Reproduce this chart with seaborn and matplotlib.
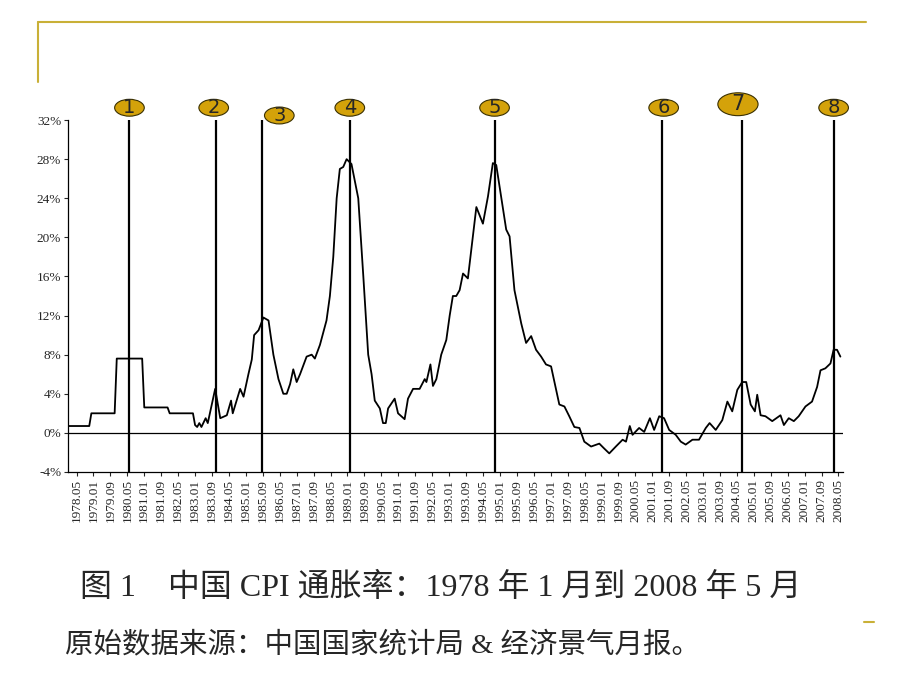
import matplotlib
matplotlib.use("Agg")
import matplotlib.pyplot as plt
import seaborn as sns
import pandas as pd
from matplotlib.lines import Line2D
from matplotlib.patches import Ellipse

# month index counted from 1978.01 (0) and CPI inflation in %
months = [0, 10, 11, 22, 23, 35, 36, 47, 48, 59, 60, 61, 62, 63, 65, 66, 68, 69.5,
          71.9, 75, 77, 77.8, 81.3, 82.9, 85.2, 86.8, 87.9, 90, 92.3, 94.7, 97, 99.4,
          101.7, 103.3, 104.9, 106.4, 108, 109.6, 112.7, 115.1, 116.6, 119, 122.1,
          123.7, 125.3, 126.9, 128.4, 130, 131.6, 133.9, 137.1, 139.5, 141.8, 143.4,
          144.9, 147.3, 148.8, 150.1, 151.2, 154.3, 155.9, 159, 160.6, 163, 166.1,
          168.5, 169.3, 171.2, 172.4, 174, 176.3, 178.7, 180.3, 181.8, 183.4,
          185, 186.6, 188.9, 190.5, 192.9, 196, 198.4, 200.7, 202.3, 204.6, 207,
          208.6, 210.9, 214.1, 216.4, 218.8, 221.1, 223.5, 225.8, 228.2, 230.6,
          232.1, 234.5, 236.8, 239.2, 241.6, 243.9, 247.1, 251, 253.3, 255.7,
          258.8, 262, 263.6, 265.4, 266.7, 269.8, 272.2, 274.9, 276.9, 279.3,
          281.6, 284, 287.1, 289.5, 291.8, 295, 298.1, 301.3, 303.1, 306, 309.1,
          311.5, 313.8, 316.2, 318.5, 320.4, 322.5, 324.5, 325.6, 327.2, 329.5,
          332.7, 336.6, 338.2, 340.5, 342.9, 345.2, 348.4, 351.5, 353.9, 355.5,
          357.8, 360.2, 361.7, 363.3, 364.9]
cpi = [0.7, 0.7, 2.0, 2.0, 7.6, 7.6, 2.6, 2.6, 2.0, 2.0, 0.8, 0.6, 1.0, 0.6, 1.5,
       1.0, 3.0, 4.5, 1.5, 1.8, 3.3, 2.0, 4.5, 3.7, 6.0, 7.5, 10, 10.5, 11.8, 11.5,
       8, 5.5, 4.0, 4.0, 5, 6.5, 5.2, 6.0, 7.8, 8.0, 7.6, 9, 11.5, 14, 18, 24, 27,
       27.2, 28, 27.5, 24, 16, 8, 6, 3.3, 2.5, 1.0, 1.0, 2.5, 3.5, 2, 1.4, 3.5, 4.5,
       4.5, 5.5, 5.2, 7, 4.8, 5.5, 8, 9.5, 12, 14, 14,
       14.6, 16.3, 15.8, 18.7, 23.1, 21.4, 24.2, 27.6, 27.4, 24.2, 20.8, 20.1,
       14.6, 11.2, 9.2, 9.9, 8.5, 7.8, 7.0, 6.8, 4.4, 2.9, 2.7, 1.7, 0.6, 0.5,
       -0.9, -1.4, -1.1, -1.6, -2.1, -1.4, -0.7, -0.9, 0.7, -0.2, 0.5, 0.1, 1.5,
       0.3, 1.7, 1.5, 0.3, -0.2, -0.9, -1.2, -0.7, -0.7, 0.5, 1.0, 0.3, 1.3, 3.2,
       2.2, 4.4, 5.2, 5.2, 2.9, 2.2, 3.9, 1.8, 1.7, 1.2, 1.8, 0.8, 1.5, 1.2, 1.7,
       2.7, 3.2, 4.7, 6.4, 6.6, 7.1, 8.5, 8.5, 7.8]

# marked turning points (month index) and their labels
marks = [29, 69.8, 91.8, 133.1, 201.5, 280.4, 318.5, 361.7]
mark_labels = ["1", "2", "3", "4", "5", "6", "7", "8"]
label_shift = [0, -1, 8, 0, 0, 1, -2, 0]
label_y = [1.035, 1.035, 1.013, 1.035, 1.035, 1.035, 1.045, 1.035]
label_big = [False, False, False, False, False, False, True, False]

tick_months = list(range(4, 365, 8))
tick_labels = [f"{1978 + m // 12}.{m % 12 + 1:02d}" for m in tick_months]
yticks = list(range(-4, 33, 4))

sns.set_theme(style="white")
plt.rcParams['font.family'] = ['Liberation Serif', 'Noto Sans CJK SC', 'DejaVu Sans']

fig = plt.figure(figsize=(9.2, 6.9), dpi=100)
ax = fig.add_axes([0.074, 0.316, 0.842, 0.51])

df = pd.DataFrame({"month": months, "cpi": cpi})
sns.lineplot(data=df, x="month", y="cpi", ax=ax, color="black", lw=1.3)
ax.axhline(0, color="black", lw=0.9)
trans = ax.get_xaxis_transform()
for m, lab, dx, yy, big in zip(marks, mark_labels, label_shift, label_y, label_big):
    ax.axvline(m, color="black", lw=1.6)
    w, h = (19, 0.065) if big else (14, 0.048)
    ax.add_patch(Ellipse((m + dx, yy), w, h, transform=trans, fc="#D4A20A",
                         ec="#3a3000", lw=0.8, clip_on=False, zorder=5))
    ax.text(m + dx, yy, lab, transform=trans, ha="center", va="center",
            fontsize=15 if big else 14, fontfamily="DejaVu Sans", clip_on=False, zorder=6)

ax.set_xlim(0, 366)
ax.set_ylim(-4, 32)
ax.set_xticks(tick_months)
ax.set_xticklabels(tick_labels, rotation=90, fontsize=9.5)
ax.set_yticks(yticks)
ax.set_yticklabels([f"{v}%" for v in yticks], fontsize=9.5)
ax.tick_params(direction="out", length=3, width=0.8, bottom=True, left=True, pad=2)
ax.set_xlabel("")
ax.set_ylabel("")
for s in ["top", "right"]:
    ax.spines[s].set_visible(False)
for s in ["left", "bottom"]:
    ax.spines[s].set_color("black")
    ax.spines[s].set_linewidth(0.9)

# slide frame decorations
gold = "#C9B037"
fig.add_artist(Line2D([38 / 920, 866 / 920], [1 - 22 / 690] * 2, color=gold, lw=1.5))
fig.add_artist(Line2D([38 / 920] * 2, [1 - 22 / 690, 1 - 82 / 690], color=gold, lw=1.5))
fig.add_artist(Line2D([864 / 920, 874 / 920], [1 - 622 / 690] * 2, color=gold, lw=1.5))

fig.text(80 / 920, 1 - 588 / 690, "图 1　中国 CPI 通胀率：1978 年 1 月到 2008 年 5 月",
         fontsize=23, va="center", ha="left")
fig.text(65 / 920, 1 - 645 / 690, "原始数据来源：中国国家统计局 & 经济景气月报。",
         fontsize=20.5, va="center", ha="left")

fig.savefig("out.png", dpi=100)
